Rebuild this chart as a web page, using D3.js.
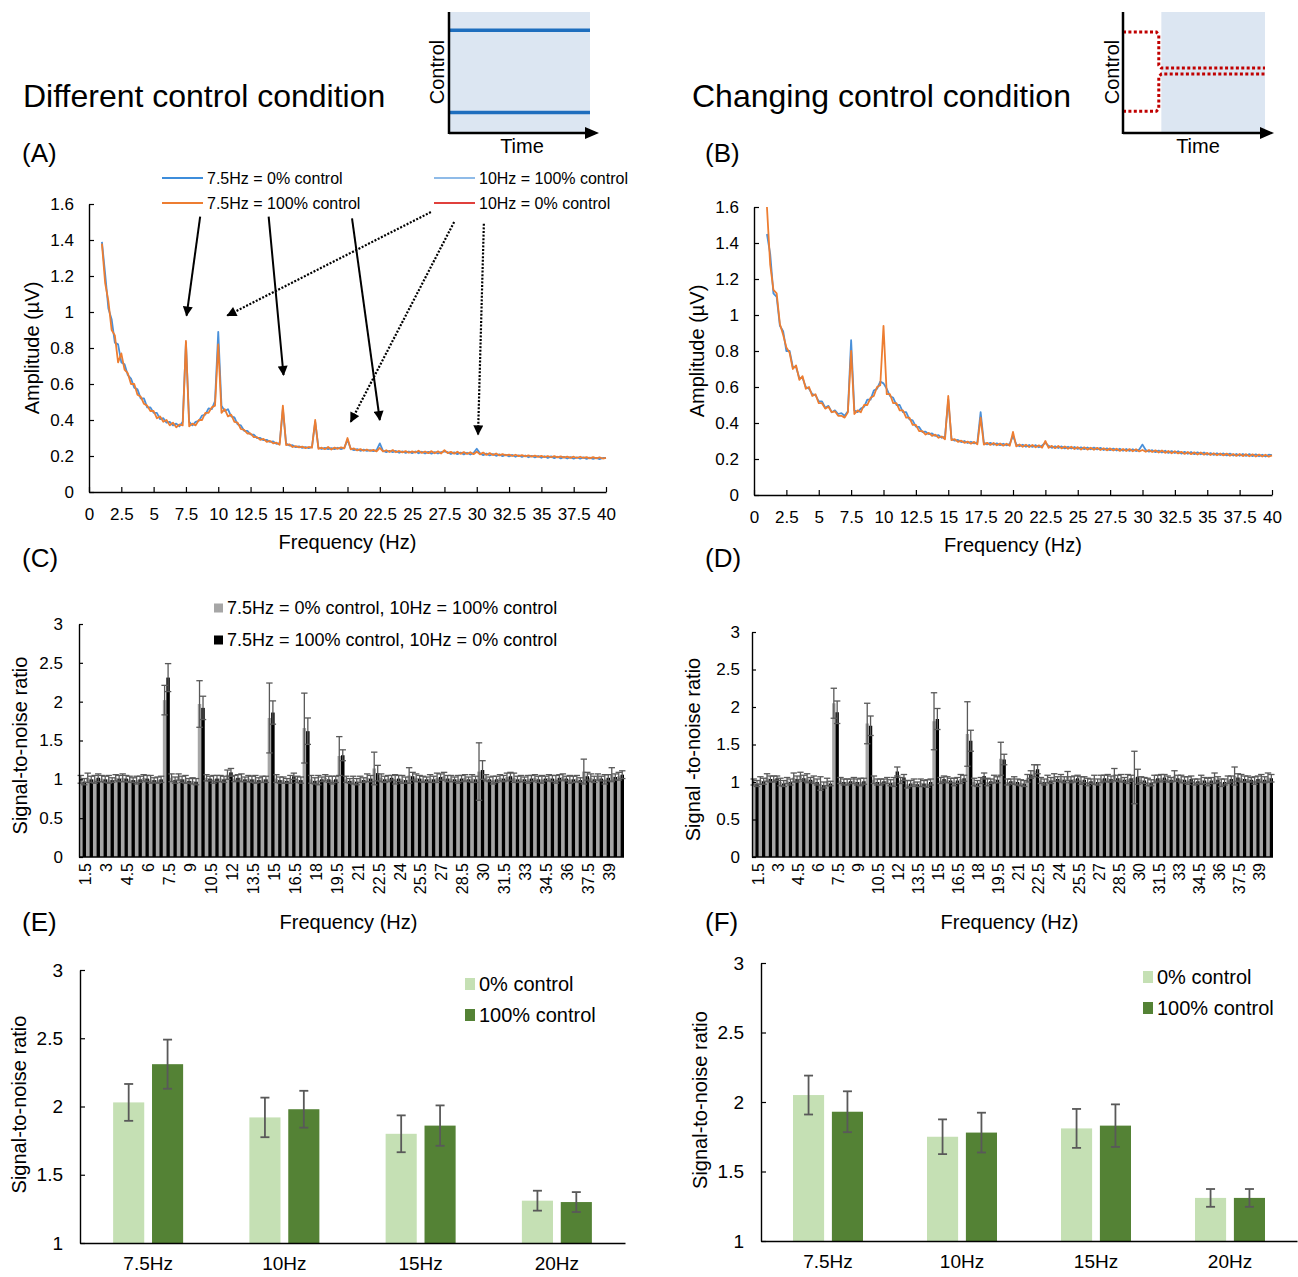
<!DOCTYPE html>
<html>
<head>
<meta charset="utf-8">
<script src="https://cdn.jsdelivr.net/npm/d3@7"></script>
<style>
  body { margin: 0; background: #fff; }
  svg { font-family: "Liberation Sans", Arial, sans-serif; }
</style>
</head>
<body>
<svg id="fig" width="1298" height="1277"></svg>
<script>
const FONT = '"Liberation Sans", Arial, sans-serif'

// ---- spectra (A, B): amplitude in uV, sampled every 0.25 Hz from 1 Hz to 40 Hz
const specStart = 1, specStep = 0.25

// (A) 7.5Hz = 0% control (blue)
const ampA0 = [
  1.39, 1.21, 1.02, 0.96, 0.83, 0.82, 0.72, 0.71,
  0.65, 0.63, 0.58, 0.57, 0.52, 0.52, 0.47, 0.47,
  0.44, 0.44, 0.405, 0.41, 0.385, 0.39, 0.37, 0.38,
  0.365, 0.39, 0.83, 0.39, 0.37, 0.39, 0.395, 0.425,
  0.43, 0.465, 0.46, 0.505, 0.89, 0.48, 0.45, 0.46,
  0.42, 0.415, 0.375, 0.37, 0.34, 0.34, 0.32, 0.318,
  0.30, 0.30, 0.288, 0.29, 0.278, 0.281, 0.268, 0.272,
  0.46, 0.27, 0.258, 0.26, 0.249, 0.254, 0.245, 0.25,
  0.244, 0.25, 0.39, 0.246, 0.239, 0.245, 0.238, 0.244,
  0.238, 0.246, 0.238, 0.245, 0.29, 0.241, 0.233, 0.238,
  0.229, 0.235, 0.228, 0.233, 0.227, 0.232, 0.27, 0.229,
  0.222, 0.229, 0.221, 0.228, 0.218, 0.226, 0.217, 0.225,
  0.216, 0.225, 0.215, 0.224, 0.214, 0.223, 0.213, 0.222,
  0.214, 0.222, 0.226, 0.221, 0.211, 0.22, 0.21, 0.219,
  0.209, 0.218, 0.208, 0.217, 0.24, 0.215, 0.205, 0.213,
  0.203, 0.211, 0.201, 0.209, 0.199, 0.207, 0.198, 0.206,
  0.196, 0.204, 0.195, 0.203, 0.193, 0.201, 0.192, 0.2,
  0.19, 0.199, 0.189, 0.198, 0.188, 0.196, 0.187, 0.195,
  0.186, 0.194, 0.185, 0.193, 0.185, 0.192, 0.184, 0.191,
  0.184, 0.19, 0.183, 0.189, 0.189
]
// (A) 7.5Hz = 100% control (orange)
const ampA100 = [
  1.38, 1.16, 1.06, 0.90, 0.87, 0.72, 0.77, 0.68,
  0.66, 0.60, 0.60, 0.54, 0.53, 0.49, 0.48, 0.45,
  0.45, 0.41, 0.42, 0.39, 0.40, 0.37, 0.385, 0.36,
  0.375, 0.37, 0.84, 0.365, 0.38, 0.37, 0.40, 0.40,
  0.44, 0.44, 0.47, 0.48, 0.82, 0.44, 0.46, 0.42,
  0.43, 0.39, 0.385, 0.35, 0.345, 0.325, 0.325, 0.305,
  0.305, 0.29, 0.295, 0.278, 0.284, 0.27, 0.274, 0.262,
  0.48, 0.26, 0.265, 0.25, 0.255, 0.248, 0.252, 0.244,
  0.25, 0.246, 0.40, 0.24, 0.246, 0.238, 0.25, 0.236,
  0.247, 0.24, 0.248, 0.242, 0.30, 0.237, 0.242, 0.231,
  0.238, 0.229, 0.236, 0.228, 0.234, 0.226, 0.245, 0.225,
  0.232, 0.222, 0.233, 0.221, 0.228, 0.22, 0.227, 0.218,
  0.226, 0.219, 0.229, 0.217, 0.225, 0.216, 0.227, 0.215,
  0.226, 0.214, 0.232, 0.216, 0.223, 0.213, 0.224, 0.212,
  0.222, 0.211, 0.221, 0.21, 0.224, 0.209, 0.219, 0.206,
  0.216, 0.205, 0.214, 0.203, 0.21, 0.204, 0.208, 0.2,
  0.207, 0.199, 0.205, 0.198, 0.204, 0.197, 0.202, 0.195,
  0.201, 0.194, 0.2, 0.193, 0.199, 0.192, 0.198, 0.191,
  0.197, 0.19, 0.196, 0.189, 0.196, 0.189, 0.194, 0.187,
  0.194, 0.187, 0.193, 0.186, 0.19
]
// (B) blue
const ampB0 = [
  1.45, 1.34, 1.12, 1.10, 0.94, 0.91, 0.80, 0.80,
  0.71, 0.71, 0.65, 0.65, 0.60, 0.59, 0.56, 0.555,
  0.52, 0.52, 0.485, 0.495, 0.46, 0.47, 0.45, 0.455,
  0.44, 0.465, 0.86, 0.47, 0.46, 0.48, 0.49, 0.53,
  0.53, 0.58, 0.59, 0.63, 0.62, 0.59, 0.55, 0.54,
  0.50, 0.50, 0.46, 0.46, 0.42, 0.415, 0.38, 0.378,
  0.35, 0.352, 0.338, 0.342, 0.328, 0.332, 0.318, 0.325,
  0.53, 0.312, 0.302, 0.306, 0.294, 0.3, 0.289, 0.296,
  0.287, 0.293, 0.46, 0.29, 0.281, 0.29, 0.279, 0.287,
  0.277, 0.285, 0.276, 0.284, 0.33, 0.281, 0.271, 0.279,
  0.268, 0.278, 0.267, 0.277, 0.265, 0.275, 0.29, 0.273,
  0.262, 0.271, 0.261, 0.27, 0.259, 0.268, 0.258, 0.267,
  0.256, 0.265, 0.255, 0.264, 0.254, 0.263, 0.253, 0.262,
  0.25, 0.259, 0.249, 0.258, 0.247, 0.257, 0.246, 0.256,
  0.245, 0.254, 0.244, 0.253, 0.28, 0.25, 0.241, 0.249,
  0.238, 0.247, 0.236, 0.246, 0.234, 0.244, 0.233, 0.243,
  0.23, 0.24, 0.229, 0.239, 0.227, 0.237, 0.226, 0.236,
  0.224, 0.233, 0.223, 0.232, 0.222, 0.231, 0.22, 0.23,
  0.219, 0.228, 0.218, 0.228, 0.217, 0.227, 0.216, 0.226,
  0.215, 0.224, 0.214, 0.224, 0.222
]
// (B) orange
const ampB100 = [
  1.60, 1.28, 1.14, 1.12, 0.95, 0.89, 0.82, 0.79,
  0.70, 0.72, 0.64, 0.66, 0.59, 0.60, 0.55, 0.56,
  0.51, 0.51, 0.48, 0.49, 0.46, 0.465, 0.44, 0.44,
  0.43, 0.46, 0.80, 0.45, 0.47, 0.46, 0.50, 0.50,
  0.54, 0.55, 0.60, 0.61, 0.94, 0.56, 0.56, 0.51,
  0.51, 0.47, 0.47, 0.43, 0.43, 0.39, 0.39, 0.355,
  0.355, 0.336, 0.345, 0.328, 0.335, 0.318, 0.325, 0.31,
  0.55, 0.305, 0.31, 0.295, 0.302, 0.29, 0.297, 0.285,
  0.295, 0.282, 0.43, 0.28, 0.29, 0.278, 0.289, 0.276,
  0.286, 0.274, 0.285, 0.273, 0.35, 0.27, 0.281, 0.268,
  0.279, 0.266, 0.278, 0.265, 0.276, 0.263, 0.30, 0.262,
  0.273, 0.26, 0.272, 0.259, 0.27, 0.257, 0.268, 0.255,
  0.266, 0.253, 0.265, 0.252, 0.263, 0.251, 0.262, 0.25,
  0.26, 0.248, 0.259, 0.247, 0.257, 0.245, 0.256, 0.244,
  0.255, 0.243, 0.254, 0.242, 0.25, 0.24, 0.25, 0.239,
  0.248, 0.236, 0.247, 0.234, 0.245, 0.232, 0.243, 0.231,
  0.24, 0.228, 0.239, 0.227, 0.237, 0.225, 0.236, 0.224,
  0.234, 0.222, 0.232, 0.221, 0.231, 0.22, 0.23, 0.218,
  0.228, 0.217, 0.228, 0.216, 0.227, 0.215, 0.226, 0.214,
  0.225, 0.214, 0.224, 0.213, 0.22
]
const ampTicks = [0, 0.2, 0.4, 0.6, 0.8, 1, 1.2, 1.4, 1.6]
const freqTicks = [0, 2.5, 5, 7.5, 10, 12.5, 15, 17.5, 20, 22.5, 25, 27.5, 30, 32.5, 35, 37.5, 40]

// ---- signal-to-noise per frequency bin (C, D)
const snrFreqs = [
  1.5, 2, 2.5, 3, 3.5, 4, 4.5, 5, 5.5, 6, 6.5, 7, 7.5, 8, 8.5, 9, 9.5, 10,
  10.5, 11, 11.5, 12, 12.5, 13, 13.5, 14, 14.5, 15, 15.5, 16, 16.5, 17, 17.5, 18,
  18.5, 19, 19.5, 20, 20.5, 21, 21.5, 22, 22.5, 23, 23.5, 24, 24.5, 25, 25.5, 26,
  26.5, 27, 27.5, 28, 28.5, 29, 29.5, 30, 30.5, 31, 31.5, 32, 32.5, 33, 33.5, 34,
  34.5, 35, 35.5, 36, 36.5, 37, 37.5, 38, 38.5, 39, 39.5, 40
]
const snrTickLabels = [1.5, 3, 4.5, 6, 7.5, 9, 10.5, 12, 13.5, 15, 16.5, 18, 19.5, 21, 22.5, 24, 25.5, 27, 28.5, 30, 31.5, 33, 34.5, 36, 37.5, 39]
const snrTicks = [0, 0.5, 1, 1.5, 2, 2.5, 3]

// C: gray = 7.5Hz 0% / 10Hz 100%, black = 7.5Hz 100% / 10Hz 0%
const snrC0 = [
  1.00, 1.02, 1.00, 1.01, 1.00, 1.02,
  1.02, 1.00, 0.99, 1.02, 1.00, 0.99,
  2.02, 1.02, 1.03, 1.00, 0.98, 1.97,
  1.02, 1.00, 1.01, 1.06, 1.01, 1.02,
  1.01, 1.00, 1.00, 1.79, 1.01, 0.99,
  1.00, 1.00, 1.66, 1.00, 0.99, 1.02,
  0.99, 1.30, 1.00, 0.99, 1.00, 1.02,
  1.14, 1.02, 1.01, 1.00, 1.00, 1.05,
  1.02, 1.00, 1.01, 1.02, 1.04, 1.01,
  1.00, 1.02, 1.01, 1.10, 1.02, 0.99,
  1.02, 1.03, 1.02, 1.01, 1.00, 1.02,
  1.00, 1.02, 1.00, 1.03, 1.00, 1.01,
  1.10, 1.02, 1.03, 1.00, 1.06, 1.04
]
const errC0 = [
  0.05, 0.06, 0.05, 0.04, 0.05, 0.04,
  0.05, 0.04, 0.05, 0.04, 0.05, 0.04,
  0.19, 0.05, 0.04, 0.05, 0.04, 0.30,
  0.04, 0.05, 0.04, 0.06, 0.04, 0.05,
  0.04, 0.05, 0.04, 0.45, 0.05, 0.04,
  0.05, 0.04, 0.45, 0.05, 0.06, 0.04,
  0.05, 0.25, 0.04, 0.05, 0.04, 0.05,
  0.21, 0.05, 0.04, 0.06, 0.05, 0.10,
  0.05, 0.04, 0.05, 0.06, 0.05, 0.04,
  0.05, 0.04, 0.05, 0.37, 0.04, 0.05,
  0.04, 0.05, 0.06, 0.04, 0.05, 0.04,
  0.05, 0.04, 0.05, 0.04, 0.05, 0.04,
  0.16, 0.05, 0.04, 0.06, 0.09, 0.05
]
const snrC100 = [
  0.97, 1.00, 1.02, 1.00, 0.99, 1.01,
  1.01, 0.99, 1.00, 1.01, 0.99, 1.00,
  2.31, 0.99, 1.00, 0.98, 0.97, 1.92,
  1.01, 1.01, 1.00, 1.09, 1.02, 1.00,
  1.00, 0.99, 1.00, 1.86, 0.99, 0.98,
  1.04, 0.99, 1.62, 0.98, 1.00, 1.00,
  1.00, 1.31, 0.98, 0.97, 0.99, 1.01,
  1.08, 1.00, 1.02, 1.01, 0.99, 1.04,
  1.01, 1.00, 1.00, 1.03, 1.01, 1.00,
  1.01, 1.00, 1.00, 1.12, 1.00, 1.00,
  1.01, 1.04, 1.00, 1.00, 1.01, 1.00,
  1.01, 1.01, 1.02, 1.01, 1.00, 0.99,
  1.04, 1.00, 1.01, 1.02, 1.03, 1.06
]
const errC100 = [
  0.04, 0.04, 0.05, 0.04, 0.03, 0.04,
  0.04, 0.03, 0.04, 0.04, 0.03, 0.04,
  0.18, 0.04, 0.04, 0.03, 0.04, 0.15,
  0.03, 0.04, 0.04, 0.05, 0.04, 0.03,
  0.04, 0.03, 0.04, 0.15, 0.04, 0.03,
  0.04, 0.04, 0.17, 0.04, 0.03, 0.04,
  0.04, 0.07, 0.03, 0.04, 0.03, 0.04,
  0.10, 0.04, 0.03, 0.04, 0.04, 0.05,
  0.04, 0.03, 0.04, 0.04, 0.04, 0.03,
  0.04, 0.03, 0.04, 0.12, 0.03, 0.04,
  0.04, 0.05, 0.04, 0.03, 0.04, 0.04,
  0.03, 0.04, 0.04, 0.03, 0.04, 0.03,
  0.05, 0.04, 0.03, 0.04, 0.04, 0.05
]
// D
const snrD0 = [
  1.00, 1.02, 1.06, 1.04, 1.00, 1.02,
  1.06, 1.08, 1.05, 1.03, 0.98, 1.00,
  2.05, 1.02, 1.00, 1.02, 1.00, 1.78,
  1.03, 1.00, 1.02, 1.00, 1.02, 0.97,
  1.00, 0.99, 0.98, 1.81, 1.02, 1.03,
  1.00, 1.04, 1.64, 1.00, 1.02, 1.00,
  1.04, 1.31, 1.00, 1.02, 0.99, 1.05,
  1.15, 1.02, 1.04, 1.06, 1.05, 1.08,
  1.04, 1.02, 1.00, 1.03, 1.04, 1.05,
  1.10, 1.05, 1.04, 1.06, 1.03, 1.00,
  1.04, 1.05, 1.04, 1.08, 1.04, 1.02,
  1.00, 1.03, 1.00, 1.05, 0.99, 1.03,
  1.08, 1.05, 1.04, 1.02, 1.05, 1.06
]
const errD0 = [
  0.04, 0.05, 0.05, 0.04, 0.05, 0.04,
  0.06, 0.05, 0.06, 0.05, 0.09, 0.05,
  0.20, 0.04, 0.04, 0.04, 0.05, 0.27,
  0.05, 0.04, 0.04, 0.06, 0.04, 0.05,
  0.04, 0.05, 0.05, 0.38, 0.04, 0.04,
  0.05, 0.06, 0.43, 0.05, 0.04, 0.05,
  0.05, 0.22, 0.04, 0.05, 0.04, 0.05,
  0.08, 0.04, 0.05, 0.05, 0.05, 0.06,
  0.04, 0.05, 0.05, 0.06, 0.05, 0.05,
  0.08, 0.05, 0.06, 0.35, 0.04, 0.05,
  0.05, 0.05, 0.04, 0.07, 0.05, 0.05,
  0.04, 0.06, 0.05, 0.07, 0.05, 0.05,
  0.12, 0.05, 0.04, 0.05, 0.05, 0.06
]
const snrD100 = [
  0.98, 1.01, 1.04, 1.05, 0.98, 1.00,
  1.04, 1.05, 1.03, 1.00, 0.96, 0.98,
  1.93, 1.00, 1.01, 1.00, 1.01, 1.75,
  1.00, 1.01, 0.99, 1.14, 1.06, 0.98,
  0.97, 0.98, 1.00, 1.84, 1.04, 1.02,
  1.02, 1.05, 1.55, 0.98, 1.08, 1.01,
  1.03, 1.30, 1.01, 1.00, 0.98, 1.10,
  1.17, 1.00, 1.02, 1.04, 1.03, 1.03,
  1.05, 1.03, 1.01, 1.00, 1.05, 1.04,
  1.05, 1.03, 1.05, 1.07, 1.02, 0.99,
  1.05, 1.06, 1.03, 1.05, 1.03, 1.04,
  1.01, 1.02, 1.02, 1.03, 1.00, 1.04,
  1.06, 1.04, 1.03, 1.04, 1.03, 1.05
]
const errD100 = [
  0.04, 0.04, 0.04, 0.03, 0.04, 0.04,
  0.04, 0.04, 0.03, 0.04, 0.04, 0.03,
  0.15, 0.04, 0.03, 0.04, 0.04, 0.13,
  0.04, 0.03, 0.04, 0.06, 0.04, 0.04,
  0.03, 0.04, 0.04, 0.14, 0.04, 0.03,
  0.04, 0.04, 0.14, 0.04, 0.04, 0.03,
  0.04, 0.07, 0.03, 0.04, 0.04, 0.05,
  0.06, 0.04, 0.04, 0.03, 0.04, 0.04,
  0.04, 0.04, 0.03, 0.04, 0.04, 0.04,
  0.04, 0.03, 0.04, 0.10, 0.04, 0.04,
  0.04, 0.04, 0.03, 0.04, 0.04, 0.04,
  0.03, 0.04, 0.04, 0.04, 0.04, 0.04,
  0.05, 0.04, 0.03, 0.04, 0.04, 0.05
]

// ---- summary (E, F)
const groupCats = ["7.5Hz", "10Hz", "15Hz", "20Hz"]
const groupTicks = [1, 1.5, 2, 2.5, 3]
const snrE0 = [2.03, 1.92, 1.80, 1.31]
const errE0 = [0.135, 0.145, 0.135, 0.073]
const snrE100 = [2.31, 1.98, 1.86, 1.30]
const errE100 = [0.18, 0.135, 0.148, 0.073]
const snrF0 = [2.05, 1.75, 1.81, 1.31]
const errF0 = [0.14, 0.125, 0.14, 0.064]
const snrF100 = [1.93, 1.78, 1.83, 1.31]
const errF100 = [0.147, 0.143, 0.153, 0.064]

// ---- inset sketches (control level over time, 0..1)
const insetA_levels = [0.85, 0.17]
const insetB_upper = [[0, 0.835], [0.235, 0.835], [0.252, 0.81], [0.252, 0.56], [0.27, 0.537], [1, 0.537]]
const insetB_lower = [[0, 0.18], [0.235, 0.18], [0.252, 0.2], [0.252, 0.465], [0.27, 0.488], [1, 0.488]]

// arrows in panel A, in (Hz, uV)
const arrowsA = [
  { from: [8.6, 1.53], to: [7.55, 0.98], dotted: false },
  { from: [13.9, 1.53], to: [15.05, 0.65], dotted: false },
  { from: [20.35, 1.52], to: [22.5, 0.40], dotted: false },
  { from: [26.45, 1.555], to: [10.7, 0.98], dotted: true },
  { from: [28.25, 1.50], to: [20.25, 0.39], dotted: true },
  { from: [30.55, 1.49], to: [30.1, 0.32], dotted: true }
]

const BLUE = "#4a90d9", ORANGE = "#ed7d31"
const GRAY = "#a6a6a6", ERR = "#595959"
const LGREEN = "#c5e0b4", DGREEN = "#548235"

const svg = d3.select("#fig")

const defs = svg.append("defs")
defs.append("marker")
  .attr("id", "ah").attr("viewBox", "0 0 10 10")
  .attr("refX", 9).attr("refY", 5)
  .attr("markerWidth", 11).attr("markerHeight", 10)
  .attr("markerUnits", "userSpaceOnUse")
  .attr("orient", "auto")
  .append("path").attr("d", "M0,0L10,5L0,10Z").attr("fill", "#000")

function styleAxis(g, size) {
  g.attr("font-family", FONT).attr("font-size", size)
  g.selectAll("text").attr("fill", "#000")
  g.select(".domain").attr("stroke", "#000").attr("stroke-width", 1.4)
  g.selectAll(".tick line").attr("stroke", "#000").attr("stroke-width", 1.2)
}

function text(x, y, s, size, opts = {}) {
  const t = svg.append("text")
    .attr("x", x).attr("y", y)
    .attr("font-size", size)
    .attr("fill", "#000")
    .attr("text-anchor", opts.anchor || "start")
    .text(s)
  if (opts.rotate) t.attr("transform", `rotate(${opts.rotate},${x},${y})`)
  if (opts.dy) t.attr("dy", opts.dy)
  return t
}

// ---------- headers ----------
text(23, 107, "Different control condition", 32)
text(692, 107, "Changing control condition", 32)
text(22, 162, "(A)", 26)
text(705, 162, "(B)", 26)
text(22, 567, "(C)", 26)
text(705, 567, "(D)", 26)
text(22, 931, "(E)", 26)
text(705, 931, "(F)", 26)

// ---------- insets ----------
function inset(x0, x1, bgFrom, drawFn, labelX, timeX) {
  const tx = d3.scaleLinear().domain([0, 1]).range([x0, x1])
  const cy = d3.scaleLinear().domain([0, 1]).range([133, 12])
  svg.append("rect")
    .attr("x", tx(bgFrom)).attr("y", cy(1))
    .attr("width", tx(1) - tx(bgFrom)).attr("height", cy(0) - cy(1))
    .attr("fill", "#dce6f2")
  drawFn(tx, cy)
  svg.append("line").attr("x1", x0).attr("x2", x0).attr("y1", cy(1)).attr("y2", cy(0) + 1)
    .attr("stroke", "#000").attr("stroke-width", 2.5)
  svg.append("line").attr("x1", x0).attr("x2", x1 + 5).attr("y1", cy(0)).attr("y2", cy(0))
    .attr("stroke", "#000").attr("stroke-width", 2.5)
  svg.append("path")
    .attr("d", `M${x1 - 5},${cy(0) - 6}L${x1 + 9},${cy(0)}L${x1 - 5},${cy(0) + 6}Z`)
    .attr("fill", "#000")
  text(labelX, 72, "Control", 20, { anchor: "middle", rotate: -90, dy: "0.35em" })
  text(timeX, 153, "Time", 20, { anchor: "middle" })
}

inset(449, 590, 0, (tx, cy) => {
  svg.selectAll(".lvlA").data(insetA_levels).join("line")
    .attr("class", "lvlA")
    .attr("x1", tx(0)).attr("x2", tx(1))
    .attr("y1", d => cy(d)).attr("y2", d => cy(d))
    .attr("stroke", "#1e6ebe").attr("stroke-width", 3.5)
}, 437, 522)

inset(1123, 1265, 0.27, (tx, cy) => {
  const ln = d3.line().x(d => tx(d[0])).y(d => cy(d[1]))
  svg.selectAll(".lvlB").data([insetB_upper, insetB_lower]).join("path")
    .attr("class", "lvlB")
    .attr("d", ln).attr("fill", "none")
    .attr("stroke", "#c00000").attr("stroke-width", 3)
    .attr("stroke-dasharray", "3,2.4")
}, 1112, 1198)

// ---------- spectra ----------
function spectrumPanel(o) {
  const x = d3.scaleLinear().domain([0, 40]).range([o.x0, o.x1])
  const y = d3.scaleLinear().domain([0, 1.6]).range([o.y0, o.y1])
  const ln = d3.line().x((d, i) => x(specStart + i * specStep)).y(d => y(d))

  const gy = svg.append("g").attr("transform", `translate(${o.x0},0)`)
    .call(d3.axisLeft(y).tickValues(ampTicks).tickFormat(d => String(d))
      .tickSizeInner(-5).tickSizeOuter(0).tickPadding(15))
  styleAxis(gy, 17)
  const gx = svg.append("g").attr("transform", `translate(0,${o.y0})`)
    .call(d3.axisBottom(x).tickValues(freqTicks).tickFormat(d => String(d))
      .tickSizeInner(-5).tickSizeOuter(0).tickPadding(16))
  styleAxis(gx, 17)

  o.series.forEach(s => {
    svg.append("path").datum(s.values)
      .attr("d", ln).attr("fill", "none")
      .attr("stroke", s.color).attr("stroke-width", 1.8)
      .attr("stroke-linejoin", "round")
  })

  text(o.x0 - 57, (o.y0 + o.y1) / 2, "Amplitude (µV)", 20, { anchor: "middle", rotate: -90, dy: "0.35em" })
  text((o.x0 + o.x1) / 2, o.y0 + 57, "Frequency (Hz)", 20, { anchor: "middle" })
  return { x, y }
}

const A = spectrumPanel({
  x0: 89, x1: 606, y0: 492, y1: 204,
  series: [{ values: ampA0, color: BLUE }, { values: ampA100, color: ORANGE }]
})
spectrumPanel({
  x0: 754, x1: 1272, y0: 495, y1: 207,
  series: [{ values: ampB0, color: BLUE }, { values: ampB100, color: ORANGE }]
})

// legend of A
const legendA = [
  { label: "7.5Hz = 0% control", color: "#3d8ddb", x: 162, y: 178 },
  { label: "7.5Hz = 100% control", color: ORANGE, x: 162, y: 203 },
  { label: "10Hz = 100% control", color: "#8fbbe8", x: 434, y: 178 },
  { label: "10Hz = 0% control", color: "#e0403c", x: 434, y: 203 }
]
legendA.forEach(l => {
  svg.append("line").attr("x1", l.x).attr("x2", l.x + 41).attr("y1", l.y).attr("y2", l.y)
    .attr("stroke", l.color).attr("stroke-width", 2)
  text(l.x + 45, l.y, l.label, 16, { dy: "0.35em" })
})

// arrows of A
arrowsA.forEach(a => {
  svg.append("line")
    .attr("x1", A.x(a.from[0])).attr("y1", A.y(a.from[1]))
    .attr("x2", A.x(a.to[0])).attr("y2", A.y(a.to[1]))
    .attr("stroke", "#000").attr("stroke-width", a.dotted ? 2.2 : 2)
    .attr("stroke-dasharray", a.dotted ? "2,1.6" : null)
    .attr("marker-end", "url(#ah)")
})

// ---------- SNR per bin ----------
function snrPanel(o) {
  const x = d3.scaleBand().domain(snrFreqs).range([o.x0, o.x1]).padding(0)
  const xs = d3.scaleBand().domain([0, 1]).range([0, x.bandwidth()]).padding(0)
  const y = d3.scaleLinear().domain([0, 3]).range([o.y0, o.y1])

  o.series.forEach((s, si) => {
    svg.append("g").selectAll("rect").data(s.values).join("rect")
      .attr("x", (d, i) => x(snrFreqs[i]) + xs(si))
      .attr("width", xs.bandwidth())
      .attr("y", d => y(d))
      .attr("height", d => y(0) - y(d))
      .attr("fill", s.color)
  })
  o.series.forEach((s, si) => {
    const g = svg.append("g").attr("stroke", ERR).attr("stroke-width", 1.3)
    s.values.forEach((v, i) => {
      const cx = x(snrFreqs[i]) + xs(si) + xs.bandwidth() / 2
      const e = s.errors[i]
      g.append("line").attr("x1", cx).attr("x2", cx).attr("y1", y(v - e)).attr("y2", y(v + e))
      ;[v - e, v + e].forEach(c => g.append("line")
        .attr("x1", cx - 3.2).attr("x2", cx + 3.2).attr("y1", y(c)).attr("y2", y(c)))
    })
  })

  const gy = svg.append("g").attr("transform", `translate(${o.x0},0)`)
    .call(d3.axisLeft(y).tickValues(snrTicks).tickFormat(d => String(d))
      .tickSizeInner(-4).tickSizeOuter(0).tickPadding(o.tickPad))
  styleAxis(gy, 17)
  svg.append("line").attr("x1", o.x0).attr("x2", o.x1).attr("y1", y(0)).attr("y2", y(0))
    .attr("stroke", "#000").attr("stroke-width", 1.4)

  snrTickLabels.forEach(l => {
    const cx = x(l) + x.bandwidth() / 2 + 3
    text(cx, o.y0 + 6, String(l), 16, { anchor: "end", rotate: -90, dy: "0.35em" })
  })
  text(o.x0 - 59, (o.y0 + o.y1) / 2 + 5, o.ylabel, 20, { anchor: "middle", rotate: -90, dy: "0.35em" })
  text((o.x0 + o.x1) / 2 - 3, 929, "Frequency (Hz)", 20, { anchor: "middle" })
}

snrPanel({
  x0: 79, x1: 624, y0: 857, y1: 624, tickPad: 16,
  ylabel: "Signal-to-noise ratio",
  series: [{ values: snrC0, errors: errC0, color: GRAY }, { values: snrC100, errors: errC100, color: "#000" }]
})
snrPanel({
  x0: 752, x1: 1273, y0: 857, y1: 632, tickPad: 12,
  ylabel: "Signal -to-noise ratio",
  series: [{ values: snrD0, errors: errD0, color: GRAY }, { values: snrD100, errors: errD100, color: "#000" }]
})

const legendC = [
  { label: "7.5Hz = 0% control, 10Hz = 100% control", color: GRAY, y: 608 },
  { label: "7.5Hz = 100% control, 10Hz = 0% control", color: "#000", y: 640 }
]
legendC.forEach(l => {
  svg.append("rect").attr("x", 214).attr("y", l.y - 4.5).attr("width", 9).attr("height", 9).attr("fill", l.color)
  text(227, l.y, l.label, 18, { dy: "0.35em" })
})

// ---------- summary bars ----------
function groupPanel(o) {
  const x = d3.scaleBand().domain(groupCats).range([o.x0, o.x1])
  const xs = d3.scaleBand().domain([0, 1]).range([-35, 35]).paddingInner(0.2)
  const y = d3.scaleLinear().domain([1, 3]).range([o.y0, o.y1])
  const cx = c => x(c) + x.bandwidth() / 2

  o.series.forEach((s, si) => {
    svg.append("g").selectAll("rect").data(s.values).join("rect")
      .attr("x", (d, i) => cx(groupCats[i]) + xs(si))
      .attr("width", xs.bandwidth())
      .attr("y", d => y(d))
      .attr("height", d => y(1) - y(d))
      .attr("fill", s.color)
  })
  o.series.forEach((s, si) => {
    const g = svg.append("g").attr("stroke", ERR).attr("stroke-width", 1.8)
    s.values.forEach((v, i) => {
      const bx = cx(groupCats[i]) + xs(si) + xs.bandwidth() / 2
      const e = s.errors[i]
      g.append("line").attr("x1", bx).attr("x2", bx).attr("y1", y(v - e)).attr("y2", y(v + e))
      ;[v - e, v + e].forEach(c => g.append("line")
        .attr("x1", bx - 4.5).attr("x2", bx + 4.5).attr("y1", y(c)).attr("y2", y(c)))
    })
  })

  const gy = svg.append("g").attr("transform", `translate(${o.x0},0)`)
    .call(d3.axisLeft(y).tickValues(groupTicks).tickFormat(d => String(d))
      .tickSizeInner(-5).tickSizeOuter(0).tickPadding(17))
  styleAxis(gy, 19)
  const gx = svg.append("g").attr("transform", `translate(0,${o.y0})`)
    .call(d3.axisBottom(x).tickSize(0).tickPadding(14))
  styleAxis(gx, 19)

  text(o.x0 - 61, (o.y0 + o.y1) / 2 - 2, "Signal-to-noise ratio", 20, { anchor: "middle", rotate: -90, dy: "0.35em" })

  o.legend.forEach((l, i) => {
    svg.append("rect").attr("x", o.lx - 14).attr("y", o.ly + i * 31 - 6).attr("width", 10).attr("height", 12)
      .attr("fill", o.series[i].color)
    text(o.lx, o.ly + i * 31, l, 20, { dy: "0.35em" })
  })
}

groupPanel({
  x0: 80, x1: 625, y0: 1243, y1: 970, lx: 479, ly: 984,
  legend: ["0% control", "100% control"],
  series: [{ values: snrE0, errors: errE0, color: LGREEN }, { values: snrE100, errors: errE100, color: DGREEN }]
})
groupPanel({
  x0: 761, x1: 1297, y0: 1241, y1: 963, lx: 1157, ly: 977,
  legend: ["0% control", "100% control"],
  series: [{ values: snrF0, errors: errF0, color: LGREEN }, { values: snrF100, errors: errF100, color: DGREEN }]
})
</script>
</body>
</html>
